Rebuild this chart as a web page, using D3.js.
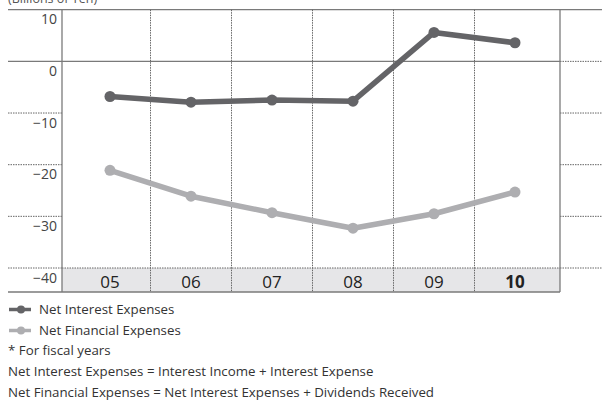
<!DOCTYPE html>
<html>
<head>
<meta charset="utf-8">
<script src="https://cdn.jsdelivr.net/npm/d3@7"></script>
<style>
  html, body { margin: 0; padding: 0; background: #fff; }
  svg { display: block; }
  text { font-family: "Open Sans", "Noto Sans", sans-serif; }
</style>
</head>
<body>
<svg id="chart" width="602" height="401"></svg>
<script>
// Fiscal years and series values (billions of yen)
const years = ["05", "06", "07", "08", "09", "10"];
const netInterest = [-6.8, -7.9, -7.5, -7.7, 5.6, 3.6];
const netFinancial = [-21.1, -26.1, -29.3, -32.3, -29.5, -25.3];
const yTicks = [10, 0, -10, -20, -30, -40];
const legendLabels = ["Net Interest Expenses", "Net Financial Expenses"];
const notes = [
  "* For fiscal years",
  "Net Interest Expenses = Interest Income + Interest Expense",
  "Net Financial Expenses = Net Interest Expenses + Dividends Received"
];

const svg = d3.select("#chart");
const axisColor = "#7a7a7a";
const darkColor = "#646467";
const lightColor = "#aeaeb1";

const plotLeft = 62, plotRight = 560;
const outerLeft = 8, outerRight = 602;
const bandBottom = 292;

const y = d3.scaleLinear().domain([-40, 10]).range([268, 9.7]);
const x = d3.scaleBand().domain(years).range([69.5, 555.5]);
const cx = d => x(d) + x.bandwidth() / 2;

// unit caption, partly clipped at the top edge
svg.append("text")
  .attr("x", 8).attr("y", 3)
  .attr("font-size", 12.5).attr("fill", "#555")
  .text("(Billions of Yen)");

// category strip under the plot
svg.append("rect")
  .attr("x", plotLeft).attr("y", y(-40))
  .attr("width", plotRight - plotLeft).attr("height", bandBottom - y(-40))
  .attr("fill", "#e6e6e8");

const grid = svg.append("g");
const dotted = sel => sel.attr("stroke", "#666").attr("stroke-width", 1).attr("stroke-dasharray", "1.5,1");

// horizontal rules: solid at top and zero, dotted elsewhere outside plot
yTicks.forEach(t => {
  const yy = y(t);
  if (t === 10) {
    grid.append("line").attr("x1", outerLeft).attr("x2", outerRight)
      .attr("y1", yy).attr("y2", yy).attr("stroke", axisColor).attr("stroke-width", 1.3);
  } else if (t === 0) {
    grid.append("line").attr("x1", outerLeft).attr("x2", plotRight)
      .attr("y1", yy).attr("y2", yy).attr("stroke", axisColor).attr("stroke-width", 1.3);
    grid.append("line").attr("x1", plotRight).attr("x2", outerRight)
      .attr("y1", yy).attr("y2", yy).call(dotted);
  } else {
    grid.append("line").attr("x1", outerLeft).attr("x2", plotLeft)
      .attr("y1", yy).attr("y2", yy).call(dotted);
    grid.append("line").attr("x1", plotRight).attr("x2", outerRight)
      .attr("y1", yy).attr("y2", yy).call(dotted);
    if (t === -40) {
      grid.append("line").attr("x1", plotLeft).attr("x2", plotRight)
        .attr("y1", yy).attr("y2", yy).call(dotted);
    }
  }
});

// vertical dotted separators between years
years.slice(1).forEach(d => {
  grid.append("line").attr("x1", x(d)).attr("x2", x(d))
    .attr("y1", y(10)).attr("y2", bandBottom).call(dotted);
});

// frame: left axis, right edge, bottom rule
grid.append("line").attr("x1", plotLeft).attr("x2", plotLeft)
  .attr("y1", y(10)).attr("y2", bandBottom).attr("stroke", axisColor).attr("stroke-width", 1.3);
grid.append("line").attr("x1", plotRight).attr("x2", plotRight)
  .attr("y1", y(10)).attr("y2", bandBottom).attr("stroke", axisColor).attr("stroke-width", 1.3);
grid.append("line").attr("x1", outerLeft).attr("x2", plotRight)
  .attr("y1", bandBottom).attr("y2", bandBottom).attr("stroke", axisColor).attr("stroke-width", 1.5);

// y tick labels sit just below their rules
svg.append("g").selectAll("text").data(yTicks).join("text")
  .attr("x", 57).attr("y", d => y(d) + 14.5)
  .attr("text-anchor", "end").attr("font-size", 14).attr("fill", "#444")
  .text(d => d < 0 ? "\u2212" + Math.abs(d) : d);

// year labels in the strip
svg.append("g").selectAll("text").data(years).join("text")
  .attr("x", d => cx(d)).attr("y", 287.5)
  .attr("text-anchor", "middle").attr("font-size", 17)
  .attr("font-weight", (d, i) => i === years.length - 1 ? "bold" : "normal")
  .attr("fill", "#222")
  .text(d => d);

// series lines with dot markers
const line = d3.line().x((d, i) => cx(years[i])).y(d => y(d));
[[netFinancial, lightColor], [netInterest, darkColor]].forEach(([vals, col]) => {
  svg.append("path").datum(vals).attr("d", line)
    .attr("fill", "none").attr("stroke", col).attr("stroke-width", 5.5)
    .attr("stroke-linejoin", "round");
  svg.append("g").selectAll("circle").data(vals).join("circle")
    .attr("cx", (d, i) => cx(years[i])).attr("cy", d => y(d))
    .attr("r", 5.5).attr("fill", col);
});

// legend
const legendY = [309.5, 330.5];
[darkColor, lightColor].forEach((col, i) => {
  const g = svg.append("g");
  g.append("line").attr("x1", 9).attr("x2", 31)
    .attr("y1", legendY[i]).attr("y2", legendY[i])
    .attr("stroke", col).attr("stroke-width", 3.5);
  g.append("circle").attr("cx", 21).attr("cy", legendY[i]).attr("r", 4).attr("fill", col);
  g.append("text").attr("x", 39).attr("y", legendY[i] + 4)
    .attr("font-size", 13.3).attr("fill", "#333").text(legendLabels[i]);
});

// footnotes
const noteY = [355, 376, 396.5];
notes.forEach((t, i) => {
  svg.append("text").attr("x", 8).attr("y", noteY[i])
    .attr("font-size", 13.3).attr("fill", "#333").text(t);
});
</script>
</body>
</html>
